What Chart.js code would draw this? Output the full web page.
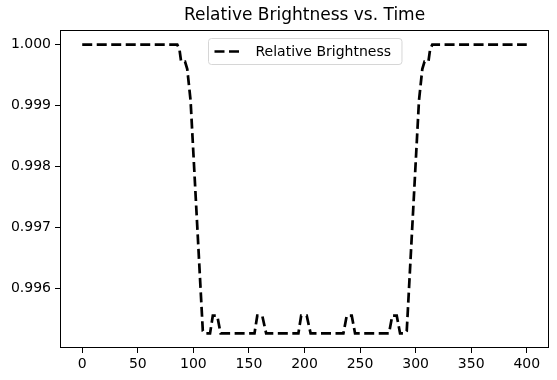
<!DOCTYPE html>
<html>
<head>
<meta charset="utf-8">
<script src="https://cdn.jsdelivr.net/npm/chart.js@4.4.0/dist/chart.umd.min.js"></script>
<style>
  html, body { margin: 0; padding: 0; background: #fff; }
</style>
</head>
<body>
<canvas id="grafico" width="557" height="380"></canvas>
<script>
// vertices da curva (tempo, brilho relativo)
const tempo = [
    0, 85.5, 87.5, 89, 92.5, 94.5, 97.5, 108.5, 110,
    115, 117.5, 121.5, 124.5,
    155, 157.5, 162, 165.5,
    194.5, 197, 202, 205.5,
    235, 238, 242.5, 245.5,
    276, 279, 283, 286,
    290.5, 292, 303, 306, 308, 311.5, 313, 315, 400
];
const brilho = [
    1.0, 1.0, 0.99992, 0.99972, 0.99972, 0.9996, 0.99908, 0.9953, 0.99526,
    0.99526, 0.99555, 0.99555, 0.99526,
    0.99526, 0.99555, 0.99555, 0.99526,
    0.99526, 0.99555, 0.99555, 0.99526,
    0.99526, 0.99555, 0.99555, 0.99526,
    0.99526, 0.99555, 0.99555, 0.99526,
    0.99526, 0.9953, 0.99908, 0.9996, 0.99972, 0.99972, 0.99992, 1.0, 1.0
];
const ticksX = [0, 50, 100, 150, 200, 250, 300, 350, 400];
const ticksY = [0.996, 0.997, 0.998, 0.999, 1.000];

const titulo = 'Relative Brightness vs. Time';
const nomeSerie = 'Relative Brightness';
const fonte = 'DejaVu Sans';

const pontos = tempo.map((t, i) => ({ x: t, y: brilho[i] }));

// moldura nos 4 lados, titulo e legenda no estilo matplotlib
const moldura = {
    id: 'moldura',
    afterDraw(chart) {
        const { ctx, chartArea: a } = chart;
        ctx.save();
        ctx.strokeStyle = '#000';
        ctx.lineWidth = 1;
        ctx.strokeRect(a.left + 0.5, a.top + 0.5, a.right - a.left - 1, a.bottom - a.top - 1);

        ctx.fillStyle = '#000';
        ctx.font = '17px "' + fonte + '"';
        ctx.textAlign = 'center';
        ctx.textBaseline = 'middle';
        ctx.fillText(titulo, (a.left + a.right) / 2, 16);

        // legenda
        ctx.font = '14px "' + fonte + '"';
        const larguraTexto = ctx.measureText(nomeSerie).width;
        const w = 8 + 28 + 14 + larguraTexto + 8;
        const h = 26;
        const x0 = Math.round((a.left + a.right) / 2 - w / 2) + 0.5;
        const y0 = a.top + 8.5;
        ctx.beginPath();
        ctx.roundRect(x0, y0, w, h, 3);
        ctx.fillStyle = 'rgba(255,255,255,0.8)';
        ctx.fill();
        ctx.strokeStyle = '#d6d6d6';
        ctx.stroke();

        ctx.beginPath();
        ctx.setLineDash([10, 4.5]);
        ctx.lineWidth = 2.7;
        ctx.strokeStyle = '#000';
        ctx.moveTo(x0 + 6, y0 + h / 2);
        ctx.lineTo(x0 + 34, y0 + h / 2);
        ctx.stroke();
        ctx.setLineDash([]);

        ctx.fillStyle = '#000';
        ctx.textAlign = 'left';
        ctx.fillText(nomeSerie, x0 + 47, y0 + h / 2 + 0.5);
        ctx.restore();
    }
};

const eixoComum = {
    grid: { drawOnChartArea: false, drawTicks: true, tickLength: 5, color: '#000', tickColor: '#000', lineWidth: 1 },
    border: { display: false },
};

new Chart(document.getElementById('grafico').getContext('2d'), {
    type: 'line',
    data: {
        datasets: [{
            label: nomeSerie,
            data: pontos,
            borderColor: '#000',
            borderWidth: 2.7,
            borderDash: [10, 4.5],
            borderCapStyle: 'butt',
            pointRadius: 0,
            tension: 0,
            fill: false
        }]
    },
    options: {
        responsive: false,
        animation: false,
        devicePixelRatio: 1,
        layout: { padding: { top: 30, right: 8, left: 0, bottom: 0 } },
        plugins: {
            legend: { display: false },
            title: { display: false },
            tooltip: { enabled: false }
        },
        scales: {
            x: {
                ...eixoComum,
                type: 'linear',
                min: -20,
                max: 420,
                afterBuildTicks: (s) => { s.ticks = ticksX.map(v => ({ value: v })); },
                afterFit: (s) => { s.height = 32; },
                ticks: { color: '#000', font: { family: fonte, size: 14 }, padding: 3, maxRotation: 0 }
            },
            y: {
                ...eixoComum,
                type: 'linear',
                min: 0.99502,
                max: 1.00024,
                afterBuildTicks: (s) => { s.ticks = ticksY.map(v => ({ value: v })); },
                afterFit: (s) => { s.width = 60; },
                ticks: {
                    color: '#000',
                    font: { family: fonte, size: 14 },
                    padding: 4,
                    callback: (v) => Number(v).toFixed(3)
                }
            }
        }
    },
    plugins: [moldura]
});
</script>
</body>
</html>
